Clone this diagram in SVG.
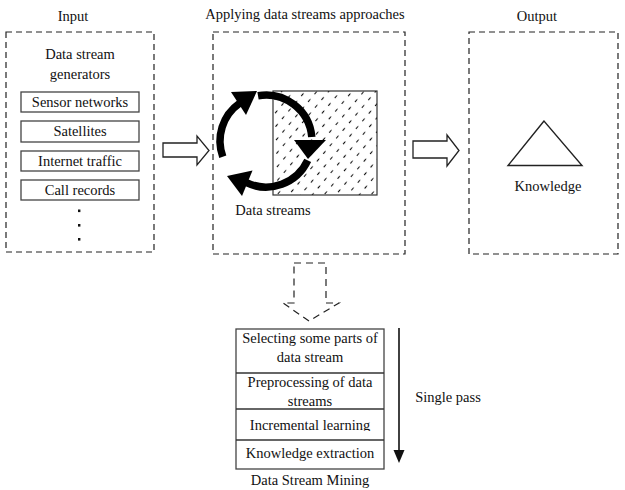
<svg xmlns="http://www.w3.org/2000/svg" width="625" height="490" viewBox="0 0 625 490">
<style>
text{font-family:"Liberation Serif","Times New Roman",serif;font-size:14.5px;fill:#111;text-anchor:middle}
.dash{fill:none;stroke:#222;stroke-width:1.2;stroke-dasharray:6 4}
.box{fill:#fff;stroke:#444;stroke-width:1.3}
.hollow{fill:#fff;stroke:#222;stroke-width:1.3;stroke-linejoin:miter}
.arc{fill:none;stroke:#000;stroke-width:7.5}
.head{fill:#000}
</style>
<defs>
<pattern id="hatch" patternUnits="userSpaceOnUse" width="10" height="9" patternTransform="rotate(-50)">
<line x1="0" y1="4.5" x2="3.5" y2="4.5" stroke="#111" stroke-width="1.1"/>
</pattern>
<clipPath id="clipInc"><rect x="236" y="409" width="148" height="22"/></clipPath>
</defs>

<g id="input">
<text x="73" y="21">Input</text>
<rect class="dash" x="6" y="32" width="148" height="220"/>
<text x="80" y="59">Data stream</text>
<text x="80" y="79">generators</text>
<rect class="box" x="21" y="92" width="118" height="20"/>
<text x="80" y="106.5">Sensor networks</text>
<rect class="box" x="21" y="121" width="118" height="21"/>
<text x="80" y="136">Satellites</text>
<rect class="box" x="21" y="151" width="118" height="20"/>
<text x="80" y="165.5">Internet traffic</text>
<rect class="box" x="21" y="180" width="118" height="20"/>
<text x="80" y="194.5">Call records</text>
<rect x="78" y="209.5" width="2.4" height="2.6" fill="#111"/>
<rect x="78" y="224" width="2.4" height="2.6" fill="#111"/>
<rect x="78" y="238" width="2.4" height="2.6" fill="#111"/>
</g>

<g id="approaches">
<text x="305" y="19">Applying data streams approaches</text>
<rect class="dash" x="213" y="32" width="192" height="222"/>
<rect x="273" y="91" width="104" height="104" fill="url(#hatch)" stroke="#333" stroke-width="1.2"/>
<path class="arc" d="M258,95.7 A46,46 0 0 1 311.8,137"/>
<polygon class="head" points="294,140 326,140 308,159"/>
<path class="arc" d="M307.7,160.4 A46,46 0 0 1 246.5,182.7"/>
<polygon class="head" points="252.5,170.5 242,196 227,176"/>
<path class="arc" d="M222.8,156.7 A46,46 0 0 1 239.6,103.3"/>
<polygon class="head" points="231,92 246,115 257,91"/>
<text x="273" y="215">Data streams</text>
</g>

<g id="output">
<text x="537" y="21">Output</text>
<rect class="dash" x="469" y="32" width="149" height="222"/>
<polygon points="544,121 508,165.5 582,165.5" fill="none" stroke="#222" stroke-width="1.4"/>
<text x="548" y="191">Knowledge</text>
</g>

<g id="mining">
<rect class="box" x="236" y="329" width="148" height="140" stroke="#333"/>
<line x1="236" y1="373" x2="384" y2="373" stroke="#333" stroke-width="1.3"/>
<line x1="236" y1="409" x2="384" y2="409" stroke="#333" stroke-width="1.3"/>
<line x1="236" y1="440" x2="384" y2="440" stroke="#333" stroke-width="1.3"/>
<text x="310" y="343">Selecting some parts of</text>
<text x="310" y="361.5">data stream</text>
<text x="310" y="387">Preprocessing of data</text>
<text x="310" y="405.5">streams</text>
<text x="310" y="430" clip-path="url(#clipInc)">Incremental learning</text>
<text x="310" y="457.5">Knowledge extraction</text>
<text x="310" y="485">Data Stream Mining</text>
<text x="448" y="402">Single pass</text>
</g>

<g id="connectors">
<polygon class="hollow" points="163,143 197,143 197,136 209,150.5 197,165 197,157 163,157"/>
<polygon class="hollow" points="413,141 447,141 447,135 459,150.5 447,166 447,158 413,158"/>
<polygon points="294,263 326,263 326,303 339,303 309,321 283,303 294,303" fill="none" stroke="#222" stroke-width="1.2" stroke-dasharray="7 5"/>
<line x1="399" y1="328" x2="399" y2="452" stroke="#111" stroke-width="1.6"/>
<polygon points="393.5,450 404.5,450 399,463" fill="#111"/>
</g>
</svg>
